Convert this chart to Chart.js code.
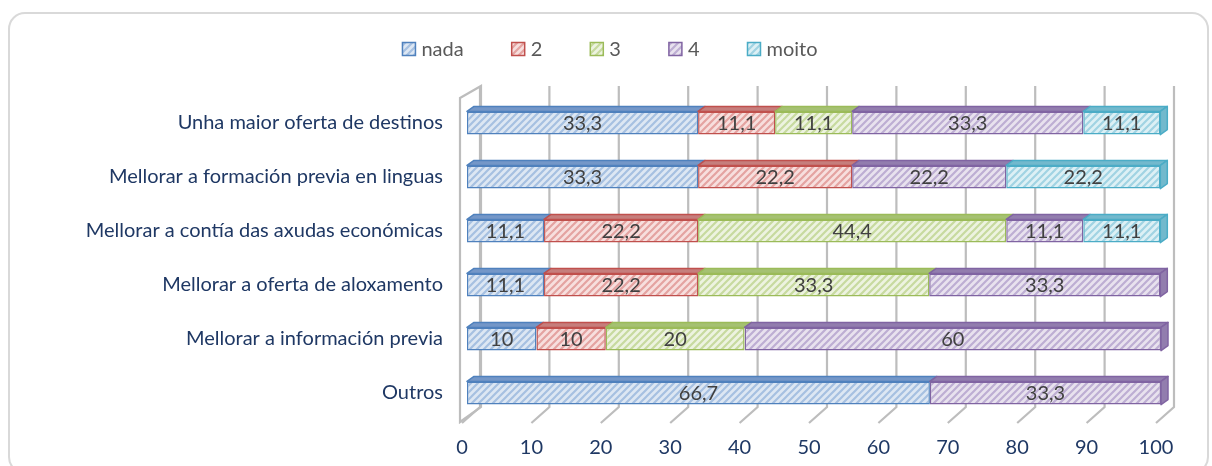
<!DOCTYPE html>
<html lang="gl">
<head>
<meta charset="UTF-8">
<title>Melloras propostas</title>
<script src="https://cdn.jsdelivr.net/npm/chart.js@4.4.0/dist/chart.umd.min.js"></script>
<style>
  html, body { margin: 0; padding: 0; background: #fff; }
  #wrap { width: 1212px; height: 466px; }
</style>
</head>
<body>
<div id="wrap"><canvas id="grafico" width="1212" height="466"></canvas></div>
<script>
// datos
var categorias = [
    'Unha maior oferta de destinos',
    'Mellorar a formación previa en linguas',
    'Mellorar a contía das axudas económicas',
    'Mellorar a oferta de aloxamento',
    'Mellorar a información previa',
    'Outros'
];
var series = ['nada', '2', '3', '4', 'moito'];
var nada  = [33.3, 33.3, 11.1, 11.1, 10, 66.7];
var dous  = [11.1, 22.2, 22.2, 22.2, 10, 0];
var tres  = [11.1, 0, 44.4, 33.3, 20, 0];
var catro = [33.3, 22.2, 11.1, 33.3, 60, 33.3];
var moito = [11.1, 22.2, 11.1, 0, 0, 0];
var eixoX = [0, 10, 20, 30, 40, 50, 60, 70, 80, 90, 100];

var cores = [
    { borde: '#4f81bd', fondo: '#dde7f3', raia: '#a6c0e1', tapa: '#7497c8' },
    { borde: '#c0504d', fondo: '#f7dfde', raia: '#e4a3a1', tapa: '#c67e7c' },
    { borde: '#9bbb59', fondo: '#edf3e0', raia: '#c7da9f', tapa: '#a5c172' },
    { borde: '#8064a2', fondo: '#e8e2ee', raia: '#bdaed3', tapa: '#927dae' },
    { borde: '#4bacc6', fondo: '#ddf0f5', raia: '#a1d3e3', tapa: '#72b9cd' }
];

var fonte = 'Lato, "DejaVu Sans", sans-serif';
var letra = 20;

// raiado diagonal
function raiado(fondo, raia) {
    var n = 7;
    var c = document.createElement('canvas');
    c.width = n; c.height = n;
    var g = c.getContext('2d');
    g.fillStyle = fondo;
    g.fillRect(0, 0, n, n);
    g.strokeStyle = raia;
    g.lineWidth = 2.2;
    g.beginPath();
    g.moveTo(-1, n + 1); g.lineTo(n + 1, -1);
    g.moveTo(-1, 1); g.lineTo(1, -1);
    g.moveTo(n - 1, n + 1); g.lineTo(n + 1, n - 1);
    g.stroke();
    return g.createPattern(c, 'repeat');
}

var valores = [nada, dous, tres, catro, moito];
var patrons = cores.map(function (c) { return raiado(c.fondo, c.raia); });

// profundidade do efecto 3D
var fundoX = 7, fundoY = 5;

function coma(v) {
    return String(v).replace('.', ',');
}

var marco = {
    id: 'marco',
    beforeDraw: function (chart) {
        var ctx = chart.ctx;
        ctx.save();
        ctx.fillStyle = '#fff';
        ctx.fillRect(0, 0, chart.width, chart.height);
        ctx.strokeStyle = '#d9d9d9';
        ctx.lineWidth = 2;
        ctx.beginPath();
        ctx.roundRect(9, 13, 1199, 460, 16);
        ctx.stroke();
        ctx.restore();
    }
};

var paredes = {
    id: 'paredes',
    beforeDatasetsDraw: function (chart) {
        var ctx = chart.ctx, a = chart.chartArea, x = chart.scales.x;
        var tras = 13, diante = -5;
        var yTop = a.top - 10, yFondo = a.bottom - 13, yChan = a.bottom + 3;
        ctx.save();
        ctx.strokeStyle = '#bdbdbd';
        ctx.lineWidth = 2.2;
        eixoX.forEach(function (v) {
            var p = x.getPixelForValue(v);
            ctx.beginPath();
            ctx.moveTo(p + tras, yTop);
            ctx.lineTo(p + tras, yFondo);
            ctx.lineTo(p + diante, yChan);
            ctx.stroke();
        });
        // parede esquerda
        var p0 = x.getPixelForValue(0);
        ctx.beginPath();
        ctx.moveTo(p0 - 7, a.top + 2);
        ctx.lineTo(p0 + tras + 1, yTop);
        ctx.lineTo(p0 + tras + 1, yFondo);
        ctx.lineTo(p0 - 7, yChan - 1);
        ctx.closePath();
        ctx.stroke();
        ctx.restore();
    }
};

var volume = {
    id: 'volume',
    afterDatasetsDraw: function (chart) {
        var ctx = chart.ctx;
        ctx.save();
        ctx.lineWidth = 1.5;
        ctx.lineJoin = 'round';
        var ultimo = categorias.map(function (c, i) {
            var u = -1;
            valores.forEach(function (s, d) { if (s[i] > 0) u = d; });
            return u;
        });
        chart.data.datasets.forEach(function (ds, d) {
            var meta = chart.getDatasetMeta(d);
            meta.data.forEach(function (el, i) {
                if (!(ds.data[i] > 0)) return;
                var x0 = el.base, x1 = el.x;
                var yt = el.y - el.height / 2, yb = el.y + el.height / 2;
                ctx.fillStyle = cores[d].tapa;
                ctx.strokeStyle = cores[d].borde;
                ctx.beginPath();
                ctx.moveTo(x0, yt);
                ctx.lineTo(x0 + fundoX, yt - fundoY);
                ctx.lineTo(x1 + fundoX, yt - fundoY);
                ctx.lineTo(x1, yt);
                ctx.closePath();
                ctx.fill();
                ctx.stroke();
                if (ultimo[i] === d) {
                    ctx.beginPath();
                    ctx.moveTo(x1, yt);
                    ctx.lineTo(x1 + fundoX, yt - fundoY);
                    ctx.lineTo(x1 + fundoX, yb - fundoY);
                    ctx.lineTo(x1, yb);
                    ctx.closePath();
                    ctx.fill();
                    ctx.stroke();
                }
            });
        });
        // etiquetas de valor
        ctx.fillStyle = '#404040';
        ctx.font = letra + 'px ' + fonte;
        ctx.textAlign = 'center';
        ctx.textBaseline = 'middle';
        chart.data.datasets.forEach(function (ds, d) {
            chart.getDatasetMeta(d).data.forEach(function (el, i) {
                if (!(ds.data[i] > 0)) return;
                ctx.fillText(coma(ds.data[i]), (el.base + el.x) / 2, el.y + 1);
            });
        });
        ctx.restore();
    }
};

var lenda = {
    id: 'lenda',
    afterDraw: function (chart) {
        var ctx = chart.ctx;
        var caixa = 13, sep = 6, oco = 48, yC = 49;
        ctx.save();
        ctx.font = letra + 'px ' + fonte;
        ctx.textBaseline = 'middle';
        var anchos = series.map(function (s) { return ctx.measureText(s).width; });
        var total = 0;
        anchos.forEach(function (w, i) { total += caixa + sep + w + (i ? oco : 0); });
        var xx = 610 - total / 2;
        series.forEach(function (s, i) {
            ctx.fillStyle = patrons[i];
            ctx.fillRect(xx, yC - caixa / 2, caixa, caixa);
            ctx.strokeStyle = cores[i].borde;
            ctx.lineWidth = 1.5;
            ctx.strokeRect(xx, yC - caixa / 2, caixa, caixa);
            ctx.fillStyle = '#595959';
            ctx.fillText(s, xx + caixa + sep, yC + 1);
            xx += caixa + sep + anchos[i] + oco;
        });
        ctx.restore();
    }
};

var ctx = document.getElementById('grafico').getContext('2d');
new Chart(ctx, {
    type: 'bar',
    data: {
        labels: categorias,
        datasets: series.map(function (s, d) {
            return {
                label: s,
                data: valores[d],
                backgroundColor: patrons[d],
                borderColor: cores[d].borde,
                borderWidth: 1.5,
                borderSkipped: false,
                barPercentage: 0.43,
                categoryPercentage: 1
            };
        })
    },
    options: {
        indexAxis: 'y',
        responsive: false,
        animation: false,
        layout: { padding: { top: 96, right: 51, left: 0, bottom: 0 } },
        plugins: {
            legend: { display: false },
            tooltip: { enabled: false }
        },
        scales: {
            x: {
                stacked: true,
                min: 0,
                max: 100,
                ticks: {
                    stepSize: 10,
                    labelOffset: -5,
                    padding: 16,
                    color: '#1f3864',
                    font: { family: fonte, size: letra }
                },
                grid: { display: false, drawTicks: false },
                border: { display: false },
                afterFit: function (s) { s.height = 46; }
            },
            y: {
                stacked: true,
                ticks: {
                    padding: 24,
                    color: '#1f3864',
                    font: { family: fonte, size: letra }
                },
                grid: { display: false, drawTicks: false },
                border: { display: false },
                afterFit: function (s) { s.width = 467; }
            }
        }
    },
    plugins: [marco, paredes, volume, lenda]
});
</script>
</body>
</html>
